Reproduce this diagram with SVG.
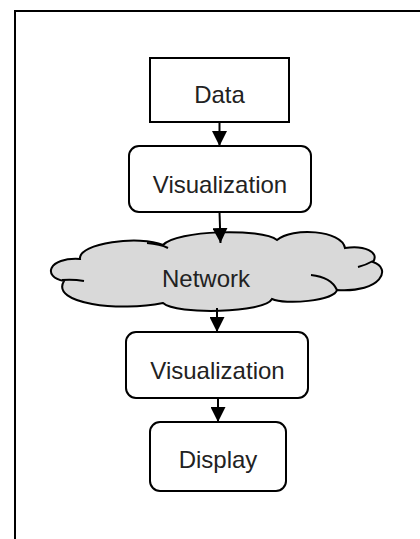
<svg xmlns="http://www.w3.org/2000/svg" width="420" height="539" viewBox="0 0 420 539">
  <style>
    .box { fill: #ffffff; stroke: #000000; stroke-width: 2; }
    .lbl { font-family: "Liberation Sans", Arial, sans-serif; font-size: 24px; fill: #222222; text-anchor: middle; }
    .conn { stroke: #000000; stroke-width: 2; fill: none; marker-end: url(#arrow); }
    .tail { fill: none; stroke: #000000; stroke-width: 2; }
  </style>
  <defs>
    <marker id="arrow" markerUnits="userSpaceOnUse" markerWidth="15" markerHeight="15" refX="15" refY="7.5" orient="auto" viewBox="0 0 15 15">
      <path d="M0,0 L15,7.5 L0,15 Z" fill="#000000"/>
    </marker>
  </defs>
  <rect width="420" height="539" fill="#ffffff"/>
  <path d="M15 539 L15 11 L420 11" fill="none" stroke="#000000" stroke-width="2"/>

  <g id="data">
    <rect class="box" x="150" y="58" width="139" height="64"/>
    <text class="lbl" x="219.5" y="103">Data</text>
  </g>

  <g id="visualization1">
    <rect class="box" x="129" y="146" width="182" height="66" rx="10" ry="10"/>
    <text class="lbl" x="220" y="193">Visualization</text>
  </g>

  <g id="network">
    <path d="M64 281 C42 277 48 257 80 259 C78 243 140 235 163 245 C176 230 262 228 277 240 C292 227 342 230 345 248 C364 245 380 252 373 262 C392 268 382 293 337 290 C334 301 285 305 272 299 C265 313 176 315 163 303 C120 312 50 304 64 281 Z" fill="#d9d9d9" stroke="#000000" stroke-width="2"/>
    <path class="tail" d="M62 280 Q73 279 84 281"/>
    <path class="tail" d="M147 243 Q160 244 168 248"/>
    <path class="tail" d="M311 275 Q331 277 337 290"/>
    <path class="tail" d="M358 267 Q366 265 373 261"/>
    <text class="lbl" x="206" y="287">Network</text>
  </g>

  <g id="visualization2">
    <rect class="box" x="126" y="332" width="182" height="66" rx="10" ry="10"/>
    <text class="lbl" x="217.5" y="379" fill="#333333">Visualization</text>
  </g>

  <g id="display">
    <rect class="box" x="150" y="422" width="136" height="69" rx="10" ry="10"/>
    <text class="lbl" x="218" y="468">Display</text>
  </g>

  <g id="connectors">
    <line class="conn" x1="219.5" y1="122" x2="219.5" y2="146"/>
    <line class="conn" x1="219.5" y1="212" x2="220.5" y2="243"/>
    <line class="conn" x1="217" y1="308" x2="217" y2="332"/>
    <line class="conn" x1="218" y1="398" x2="218" y2="422"/>
  </g>
</svg>
